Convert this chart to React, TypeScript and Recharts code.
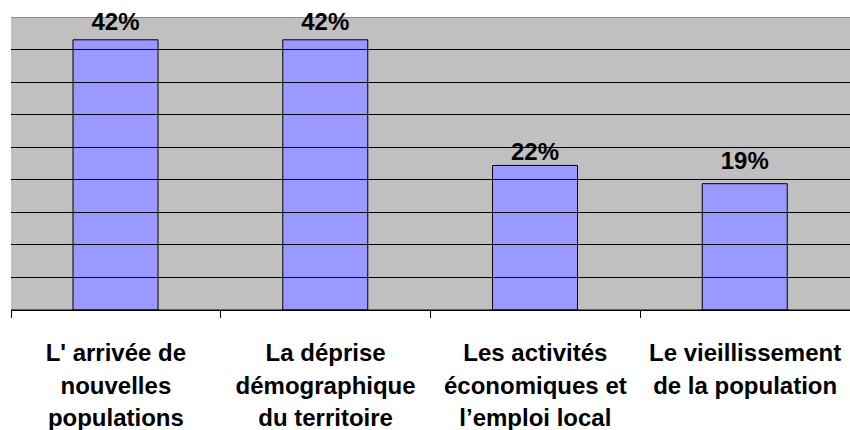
import { BarChart, Bar, XAxis, YAxis, CartesianGrid, ReferenceLine, LabelList } from 'recharts';

// categories (line breaks as in the original axis)
const categories = [
  "L' arrivée de\nnouvelles\npopulations",
  'La déprise\ndémographique\ndu territoire',
  'Les activités\néconomiques et\nl’emploi local',
  'Le vieillissement\nde la population',
];
const shares = [41.5, 41.5, 22.2, 19.4];
const shareLabels = ['42%', '42%', '22%', '19%'];
const yTicks = [0, 5, 10, 15, 20, 25, 30, 35, 40];

const W = 850;
const H = 430;
const LEFT = 11;
const TOP = 17;
const AXIS_H = 120;
const FONT = '"Liberation Sans", Arial, sans-serif';
// Excel put the value labels at slightly uneven heights
const LABEL_OFFSET = [10, 10, 5, 15];

const data = categories.map((c, i) => ({ name: c, value: shares[i], label: shareLabels[i] }));

const band = (W - LEFT) / categories.length;

function CategoryTick(props: any) {
  const { x, y, payload } = props;
  const lines = String(payload.value).split('\n');
  const edge = x - band / 2;
  return (
    <g>
      <line x1={edge} y1={y} x2={edge} y2={y + 8} stroke="#000" strokeWidth={1} shapeRendering="crispEdges" />
      <text textAnchor="middle" fontFamily={FONT} fontWeight="bold" fontSize={24} fill="#000">
        {lines.map((l, i) => (
          <tspan key={i} x={x} y={y + 51 + i * 32.5}>{l}</tspan>
        ))}
      </text>
    </g>
  );
}

function ValueLabel(props: any) {
  const { x, y, width, index, value } = props;
  return (
    <text
      x={x + width / 2}
      y={y - LABEL_OFFSET[index]}
      textAnchor="middle"
      fontFamily={FONT}
      fontWeight="bold"
      fontSize={24}
      fill="#000"
    >
      {value}
    </text>
  );
}

export default function App() {
  return (
    <div style={{ position: 'absolute', left: 0, top: 0, width: W, height: H, background: '#fff' }}>
      <BarChart width={W} height={H} data={data} margin={{ top: TOP, right: 0, left: LEFT, bottom: 0 }}>
        <CartesianGrid vertical={false} horizontal={false} fill="#C0C0C0" fillOpacity={1} />
        <XAxis
          dataKey="name"
          height={AXIS_H}
          interval={0}
          tickSize={0}
          tickMargin={0}
          tickLine={false}
          axisLine={{ stroke: '#000' }}
          tick={<CategoryTick />}
        />
        <YAxis
          width={0}
          domain={[0, 45]}
          ticks={yTicks}
          tick={false}
          tickLine={false}
          axisLine={{ stroke: '#808080' }}
        />
        {yTicks.map((t) => (
          <ReferenceLine key={t} y={t} stroke="#000" strokeWidth={1} shapeRendering="crispEdges" />
        ))}
        <ReferenceLine y={45} stroke="#8c8c8c" shapeRendering="crispEdges" />
        <Bar dataKey="value" fill="#9999FF" stroke="#000" strokeWidth={1} barSize={85} isAnimationActive={false}>
          <LabelList dataKey="label" content={<ValueLabel />} />
        </Bar>
      </BarChart>
    </div>
  );
}
